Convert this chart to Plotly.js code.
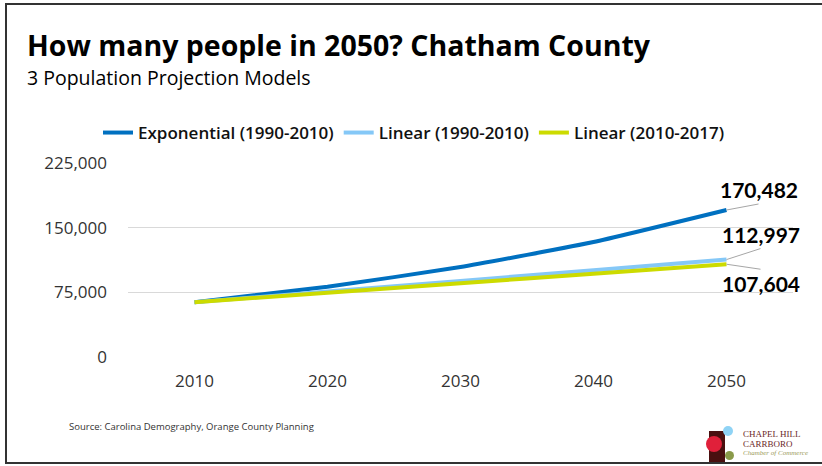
<!DOCTYPE html>
<html>
<head>
<meta charset="utf-8">
<script src="https://cdn.plot.ly/plotly-3.0.1.min.js"></script>
<style>
  html, body { margin: 0; padding: 0; background: #fff; }
  #wrap { position: relative; width: 822px; height: 466px; }
  #chart { width: 822px; height: 466px; }
  #frame { position: absolute; left: 5px; top: 3px; width: 830px; height: 457px;
           border-left: 2px solid #333; border-top: 2px solid #333; border-bottom: 2px solid #333;
           pointer-events: none; box-sizing: content-box; }
</style>
</head>
<body>
<div id="wrap">
  <div id="chart"></div>
  <div id="frame"></div>
</div>
<script>
// ---- data ----
const years = ['2010', '2020', '2030', '2040', '2050'];
const seriesNames = ['Exponential (1990-2010)', 'Linear (1990-2010)', 'Linear (2010-2017)'];
const exponential = [63505, 81500, 104300, 133300, 170482];
const linear1990 = [63505, 75900, 88250, 100600, 112997];
const linear2010 = [63505, 74500, 85550, 96600, 107604];
const yTicks = [0, 75000, 150000, 225000];
const yTickLabels = ['0', '75,000', '150,000', '225,000'];
const endLabels = ['170,482', '112,997', '107,604'];

// ---- layout helpers (pixel -> paper) ----
const W = 822, H = 466;
const M = { l: 128, r: 29, t: 163, b: 109 };
const PW = W - M.l - M.r, PH = H - M.t - M.b;
const px = x => (x - M.l) / PW;
const py = y => (H - M.b - y) / PH;

const colors = ['#0070C0', '#85C8F7', '#CCDB00'];
const seriesValues = [exponential, linear1990, linear2010];

const traces = seriesValues.map((vals, i) => ({
  type: 'scatter', mode: 'lines',
  x: years, y: vals, name: seriesNames[i],
  line: { color: colors[i], width: 4, shape: 'spline', smoothing: 0.4 },
  hoverinfo: 'skip'
}));

// end-of-line value labels with leader lines
const lastIdx = years.length - 1;
const endVals = seriesValues.map(s => s[lastIdx]);
const leaderOffsets = [[32, -6, 'bottom'], [34, -11, 'bottom'], [34, 5, 'top']];
const valueAnnotations = endVals.map((v, i) => ({
  x: lastIdx, y: v, xref: 'x', yref: 'y',
  text: endLabels[i], showarrow: true, arrowhead: 0, arrowwidth: 1,
  arrowcolor: '#a6a6a6', ax: leaderOffsets[i][0], ay: leaderOffsets[i][1],
  xanchor: 'center', yanchor: leaderOffsets[i][2],
  font: { family: 'Lato, "Open Sans", sans-serif', size: 21, color: '#000', weight: 700 }
}));

const textAnnotations = [
  { text: 'How many people in 2050? Chatham County', x: px(25), y: py(45), xanchor: 'left', yanchor: 'middle',
    font: { family: '"Open Sans", sans-serif', size: 28.5, color: '#000', weight: 700 } },
  { text: '3 Population Projection Models', x: px(25), y: py(77), xanchor: 'left', yanchor: 'middle',
    font: { family: '"Open Sans", sans-serif', size: 19.5, color: '#000' } },
  { text: 'Source: Carolina Demography, Orange County Planning', x: px(67), y: py(426), xanchor: 'left', yanchor: 'middle',
    font: { family: '"Open Sans", sans-serif', size: 9.5, color: '#333' } },
  { text: 'CHAPEL HILL', x: px(741), y: py(434), xanchor: 'left', yanchor: 'middle',
    font: { family: '"Liberation Serif", "DejaVu Serif", serif', size: 9, color: '#6b1f1f' } },
  { text: 'CARRBORO', x: px(741), y: py(444), xanchor: 'left', yanchor: 'middle',
    font: { family: '"Liberation Serif", "DejaVu Serif", serif', size: 9, color: '#6b1f1f' } },
  { text: '<i>Chamber of Commerce</i>', x: px(741), y: py(453), xanchor: 'left', yanchor: 'middle',
    font: { family: '"Liberation Serif", "DejaVu Serif", serif', size: 7, color: '#9a9a5a' } }
].map(a => Object.assign({ xref: 'paper', yref: 'paper', showarrow: false }, a));

// logo shapes
const logoShapes = [
  { type: 'rect', x0: px(709), x1: px(725), y0: py(431), y1: py(462), fillcolor: '#4a1010', line: { width: 0 } },
  { type: 'circle', x0: px(706), x1: px(722), y0: py(436), y1: py(452), fillcolor: '#e0203a', line: { width: 0 } },
  { type: 'circle', x0: px(723), x1: px(733), y0: py(426), y1: py(436), fillcolor: '#8fd3f5', line: { width: 0 } },
  { type: 'circle', x0: px(725), x1: px(734), y0: py(451), y1: py(460), fillcolor: '#8a9a4a', line: { width: 0 } }
].map(s => Object.assign({ xref: 'paper', yref: 'paper', layer: 'above' }, s));

const layout = {
  width: W, height: H,
  margin: M,
  paper_bgcolor: '#fff', plot_bgcolor: '#fff',
  showlegend: true,
  legend: {
    orientation: 'h', x: px(98), xanchor: 'left', y: py(133), yanchor: 'middle',
    font: { family: '"Open Sans", sans-serif', size: 17, color: '#111', weight: 600 },
    itemwidth: 30, tracegroupgap: 0
  },
  xaxis: {
    type: 'category', range: [-0.5, 4.5], showgrid: false, zeroline: false, showline: false,
    ticks: '', ticklabelstandoff: 12, tickfont: { family: '"Open Sans", sans-serif', size: 17, color: '#333' },
    fixedrange: true
  },
  yaxis: {
    range: [0, 225000], tickvals: yTicks, ticktext: yTickLabels,
    showgrid: true, gridcolor: '#d9d9d9', gridwidth: 1, zeroline: false, showline: false,
    ticks: '', ticklen: 0, ticklabelstandoff: 20, tickfont: { family: '"Open Sans", sans-serif', size: 17, color: '#333' },
    automargin: false, fixedrange: true
  },
  annotations: textAnnotations.concat(valueAnnotations),
  shapes: logoShapes
};

Plotly.newPlot('chart', traces, layout, { displayModeBar: false, staticPlot: true });
</script>
</body>
</html>
